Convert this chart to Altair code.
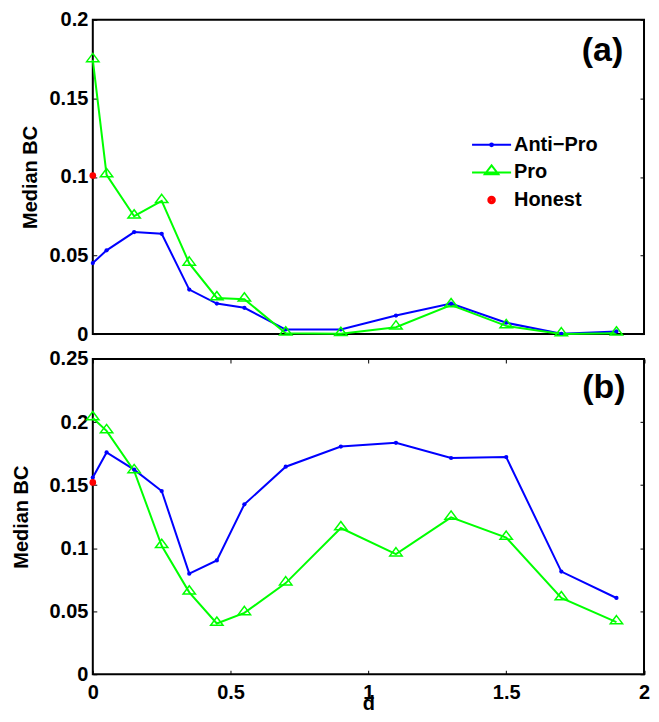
import altair as alt
import pandas as pd

# ---------------- data ----------------
d_values = [0, 0.05, 0.15, 0.25, 0.35, 0.45, 0.55, 0.7, 0.9, 1.1, 1.3, 1.5, 1.7, 1.9]

a_anti_pro = [0.0452, 0.0533, 0.0649, 0.0638, 0.0283, 0.0194, 0.0167, 0.0029,
              0.0029, 0.0118, 0.0194, 0.0072, 0.0002, 0.0017]
a_pro = [0.1745, 0.1013, 0.0750, 0.0848, 0.0450, 0.0230, 0.0222, 0.0005,
         0.0002, 0.0044, 0.0185, 0.0052, 0.0000, 0.0005]
a_honest = 0.1009

b_anti_pro = [0.1560, 0.1759, 0.1623, 0.1453, 0.0798, 0.0903, 0.1348, 0.1646,
              0.1806, 0.1835, 0.1715, 0.1722, 0.0814, 0.0605]
b_pro = [0.2032, 0.1930, 0.1613, 0.1019, 0.0650, 0.0403, 0.0487, 0.0723,
         0.1160, 0.0953, 0.1244, 0.1084, 0.0605, 0.0414]
b_honest = 0.1521

series_names = ["Anti\u2212Pro", "Pro", "Honest"]
series_colors = ["#0000ff", "#00ff00", "#ff0000"]

x_ticks = [0, 0.5, 1, 1.5, 2]
a_y_ticks = [0, 0.05, 0.1, 0.15, 0.2]
b_y_ticks = [0, 0.05, 0.1, 0.15, 0.2, 0.25]
panel_labels = ["(a)", "(b)"]
y_title = "Median BC"
x_title = "d"

# ---------------- styling ----------------
FONT = "Liberation Sans"
TRIANGLE = "M0,-1.083L1.033,0.3L-1.033,0.3Z"
legend_paths = [
    "M-1.565,0L1.565,0M0.113,0A0.113,0.113,0,1,1,-0.113,0A0.113,0.113,0,1,1,0.113,0"
    "M0.033,0A0.033,0.033,0,1,1,-0.033,0A0.033,0.033,0,1,1,0.033,0",
    "M-1.565,0L1.565,0M0,-0.565L0.543,0.141L-0.543,0.141Z",
    "M0.261,0A0.261,0.261,0,1,1,-0.261,0A0.261,0.261,0,1,1,0.261,0"
    "M0.104,0A0.104,0.104,0,1,1,-0.104,0A0.104,0.104,0,1,1,0.104,0",
]


def build_frames(anti, pro, honest):
    rows = []
    for d, v in zip(d_values, anti):
        rows.append({"d": d, "value": v, "series": series_names[0]})
    for d, v in zip(d_values, pro):
        rows.append({"d": d, "value": v, "series": series_names[1]})
    rows.append({"d": d_values[0], "value": honest, "series": series_names[2]})
    return pd.DataFrame(rows)


def panel(df, y_max, y_ticks, label, label_x, label_y, show_x, ytitle_pad,
          width, height, with_legend):
    xs = alt.Scale(domain=[0, 2], nice=False, zero=False)
    ys = alt.Scale(domain=[0, y_max], nice=False, zero=False)
    tick_common = dict(offset=-4, tickSize=4, tickWidth=1, tickColor="black",
                       domain=False, grid=False)
    left_axis = alt.Axis(values=y_ticks, format="~g", orient="left",
                         labelPadding=5, labelFont=FONT, labelFontSize=20,
                         labelFontWeight="bold", labelColor="black",
                         title=y_title, titleFont=FONT, titleFontSize=20,
                         titleFontWeight="bold", titleColor="black",
                         titlePadding=ytitle_pad, titleBaseline="alphabetic",
                         **tick_common)
    right_axis = alt.Axis(values=y_ticks, orient="right", labels=False,
                          title=label, titleAngle=0, titleX=label_x,
                          titleY=label_y, titleAlign="right",
                          titleBaseline="alphabetic", titleFont=FONT,
                          titleFontSize=34, titleFontWeight="bold",
                          titleColor="black", **tick_common)
    if show_x:
        bottom_axis = alt.Axis(values=x_ticks, format="~g", orient="bottom",
                               labelPadding=8.5, labelFlush=False,
                               labelFont=FONT, labelFontSize=20,
                               labelFontWeight="bold", labelColor="black",
                               title=x_title, titleFont=FONT, titleFontSize=20,
                               titleFontWeight="bold", titleColor="black",
                               titleBaseline="alphabetic", titleY=39.5,
                               **tick_common)
        top_axis = alt.Axis(values=x_ticks, orient="top", labels=False,
                            title=None, **tick_common)
    else:
        bottom_axis = None
        top_axis = None

    stroke_enc = alt.Stroke("series:N",
                            scale=alt.Scale(domain=series_names, range=series_colors),
                            legend=None)
    fill_enc = alt.Fill("series:N",
                        scale=alt.Scale(domain=series_names, range=series_colors),
                        legend=None)
    df_lines = df[df["series"] != series_names[2]]
    lines = alt.Chart(df_lines).mark_line(strokeWidth=2).encode(
        x=alt.X("d:Q", scale=xs, axis=bottom_axis),
        y=alt.Y("value:Q", scale=ys, axis=left_axis),
        stroke=stroke_enc,
        detail="series:N",
    )
    anti = alt.Chart(df[df["series"] == series_names[0]]).mark_circle(
        size=18, opacity=1).encode(
        x=alt.X("d:Q", scale=xs, axis=top_axis),
        y=alt.Y("value:Q", scale=ys, axis=right_axis),
        fill=fill_enc,
    )
    pro = alt.Chart(df[df["series"] == series_names[1]]).mark_point(
        shape=TRIANGLE, size=144, filled=False, strokeWidth=1.5, opacity=1).encode(
        x=alt.X("d:Q", scale=xs, axis=None),
        y=alt.Y("value:Q", scale=ys, axis=None),
        stroke=stroke_enc,
    )
    honest = alt.Chart(df[df["series"] == series_names[2]]).mark_circle(
        size=45, opacity=1).encode(
        x=alt.X("d:Q", scale=xs, axis=None),
        y=alt.Y("value:Q", scale=ys, axis=None),
        fill=fill_enc,
    )
    layers = [lines, anti, pro, honest]
    if with_legend:
        leg = alt.Legend(orient="none", legendX=386.2, legendY=111.8, title=None,
                         padding=0, direction="vertical", symbolSize=625,
                         symbolStrokeWidth=2, symbolOpacity=1,
                         labelFont=FONT, labelFontSize=20, labelFontWeight="bold",
                         labelColor="black", labelOffset=9, rowPadding=3.7)
        legend_layer = alt.Chart(df).transform_filter("false").mark_point(
            filled=False, opacity=1, strokeWidth=2).encode(
            x=alt.X("d:Q", scale=xs, axis=None),
            y=alt.Y("value:Q", scale=ys, axis=None),
            color=alt.Color("series:N",
                            scale=alt.Scale(domain=series_names, range=series_colors),
                            legend=leg),
            shape=alt.Shape("series:N",
                            scale=alt.Scale(domain=series_names, range=legend_paths),
                            legend=leg),
        )
        layers.append(legend_layer)

    return alt.layer(*layers).properties(width=width, height=height)


df_a = build_frames(a_anti_pro, a_pro, a_honest)
df_b = build_frames(b_anti_pro, b_pro, b_honest)

top = panel(df_a, 0.2, a_y_ticks, panel_labels[0], -17.3, 41, False, 12.5, 552.5, 315, True)
bottom = panel(df_b, 0.25, b_y_ticks, panel_labels[1], -15, 39, True, 21.5, 552.5, 316, False)

chart = alt.vconcat(top, bottom, spacing=3).resolve_scale(
    color="independent", shape="independent"
).resolve_legend(
    color="independent", shape="independent"
).properties(
    padding={"left": 2, "top": 0, "right": 0, "bottom": 0},
    background="white",
).configure_view(stroke="black", strokeWidth=2)

chart.save("out.html", embed_options={"renderer": "svg", "actions": False})
